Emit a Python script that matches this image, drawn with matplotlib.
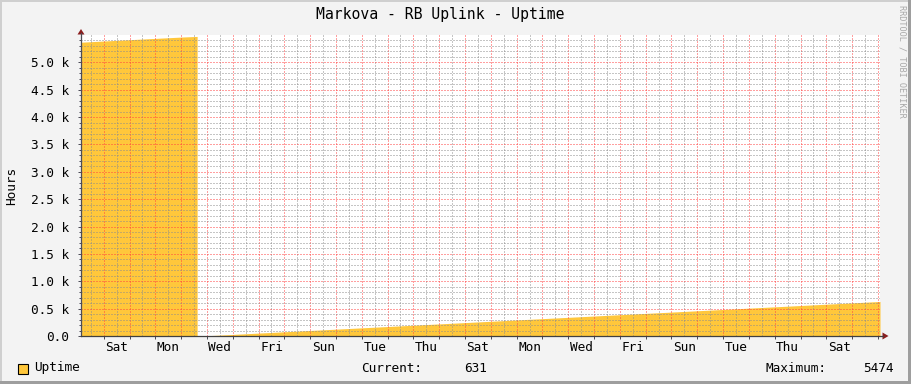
import matplotlib
matplotlib.use("Agg")
import matplotlib.pyplot as plt
from matplotlib.patches import Rectangle, Polygon
from matplotlib.lines import Line2D
import numpy as np

# DATA  (x in days, 0 = Saturday 00:00 of the first week shown)
seg1_days = [-0.88, 0.0, 1.0, 2.0, 3.0, 3.62]
seg1_hours = [5368, 5390, 5414, 5438, 5462, 5474]
seg2_days = [3.62, 3.8, 6.0, 8.0, 10.0, 12.0, 14.0, 16.0, 18.0, 20.0, 22.0,
             24.0, 26.0, 28.0, 30.08]
seg2_hours = [0, 0, 53, 101, 149, 197, 245, 293, 341, 389, 437, 485, 533,
              581, 631]

day_labels = ['Sat', 'Mon', 'Wed', 'Fri', 'Sun', 'Tue', 'Thu', 'Sat',
              'Mon', 'Wed', 'Fri', 'Sun', 'Tue', 'Thu', 'Sat']
label_days = [0.5 + 2 * i for i in range(len(day_labels))]
y_ticks = [0, 500, 1000, 1500, 2000, 2500, 3000, 3500, 4000, 4500, 5000]
y_labels = ['0.0', '0.5 k', '1.0 k', '1.5 k', '2.0 k', '2.5 k', '3.0 k',
            '3.5 k', '4.0 k', '4.5 k', '5.0 k']

title = 'Markova - RB Uplink - Uptime'
current_val = '631'
maximum_val = '5474'

# LAYOUT (pixels)
W, H = 911, 384
AX_L, AX_R, AX_T, AX_B = 81, 880, 35, 336
MONO = 'DejaVu Sans Mono'
FILL = '#FFC73B'
AXCOL = '#4D4D58'


def fx(px):
    return px / W


def fy(py):
    return 1 - py / H


fig = plt.figure(figsize=(W / 100, H / 100), dpi=100, facecolor='#F3F3F3')
ax = fig.add_axes([fx(AX_L), fy(AX_B), (AX_R - AX_L) / W, (AX_B - AX_T) / H])
ax.set_facecolor('white')

days = np.array(seg1_days + seg2_days)
hours = np.array(seg1_hours + seg2_hours)
ax.fill_between(days, 0, hours, color=FILL, linewidth=0, zorder=1)

ax.set_xlim(-0.88, 30.08)
ax.set_ylim(0, 5500)

# grid
minor_y = [v for v in range(0, 5500, 100) if v % 500 != 0]
ax.set_xticks(np.arange(0, 31, 1))
ax.set_xticks(np.arange(-0.5, 30.5, 1), minor=True)
ax.set_yticks(y_ticks)
ax.set_yticks(minor_y, minor=True)
ax.set_axisbelow(False)
ax.grid(which='major', color=(1.0, 0.25, 0.25, 0.26), linewidth=0.72,
        linestyle=(0, (1, 2)))
ax.grid(which='minor', color=(0.55, 0.55, 0.55, 0.18), linewidth=0.72,
        linestyle=(0, (1, 2)))

ax.set_yticklabels(y_labels, fontfamily=MONO, fontsize=9.2)
ax.set_xticklabels([])
ax.tick_params(axis='y', which='major', length=2.2, width=0.72, color=AXCOL,
               pad=6.5)
ax.tick_params(axis='y', which='minor', length=1.4, width=0.72, color=AXCOL)
ax.tick_params(axis='x', which='major', length=2.2, width=0.72, color=AXCOL)
ax.tick_params(axis='x', which='minor', length=0)
for d, lab in zip(label_days, day_labels):
    ax.text(d, -0.037, lab, transform=ax.get_xaxis_transform(),
            ha='center', va='center', fontfamily=MONO, fontsize=9.2)

for s in ax.spines.values():
    s.set_visible(False)

# axes lines and arrows
fig.add_artist(Line2D([fx(AX_L), fx(AX_L)], [fy(AX_B), fy(33)],
                      color=AXCOL, linewidth=0.9))
fig.add_artist(Line2D([fx(AX_L), fx(883)], [fy(AX_B), fy(AX_B)],
                      color='#404040', linewidth=0.9))
fig.add_artist(Polygon([(fx(77.5), fy(34.5)), (fx(84.5), fy(34.5)),
                        (fx(81), fy(29))], closed=True,
                       color='#8B1E1E', linewidth=0))
fig.add_artist(Polygon([(fx(882.5), fy(332.5)), (fx(882.5), fy(339.5)),
                        (fx(888.5), fy(336))], closed=True,
                       color='#8B1E1E', linewidth=0))

# texts
fig.text(fx(440), fy(14), title, ha='center', va='center',
         fontfamily=MONO, fontsize=10.6)
fig.text(fx(11.5), fy(186), 'Hours', rotation=90, ha='center',
         va='center', fontfamily=MONO, fontsize=9.2)
fig.text(fx(902), fy(5), 'RRDTOOL / TOBI OETIKER', rotation=270,
         ha='center', va='top', fontfamily=MONO, fontsize=6.1,
         color='#A8A8A8')

# legend
fig.add_artist(Rectangle((fx(17.5), fy(373.5)), 10 / W, 10 / H,
                         facecolor=FILL, edgecolor='black', linewidth=0.8))
fig.text(fx(34), fy(368), 'Uptime', ha='left', va='center',
         fontfamily=MONO, fontsize=9.2)
fig.text(fx(361), fy(368), 'Current:', ha='left', va='center',
         fontfamily=MONO, fontsize=9.2)
fig.text(fx(487), fy(368), current_val, ha='right', va='center',
         fontfamily=MONO, fontsize=9.2)
fig.text(fx(766), fy(368), 'Maximum:', ha='left', va='center',
         fontfamily=MONO, fontsize=9.2)
fig.text(fx(894), fy(368), maximum_val, ha='right', va='center',
         fontfamily=MONO, fontsize=9.2)

# frame shading
fig.add_artist(Rectangle((0, 1 - 2 / H), 1, 2 / H, facecolor='#CFCFCF',
                         linewidth=0))
fig.add_artist(Rectangle((0, 0), 2 / W, 1, facecolor='#CFCFCF', linewidth=0))
fig.add_artist(Rectangle((0, 0), 1, 3 / H, facecolor='#9E9E9E', linewidth=0))
fig.add_artist(Rectangle((1 - 3 / W, 0), 3 / W, 1, facecolor='#9E9E9E',
                         linewidth=0))

fig.savefig('out.png', dpi=100, facecolor=fig.get_facecolor())
